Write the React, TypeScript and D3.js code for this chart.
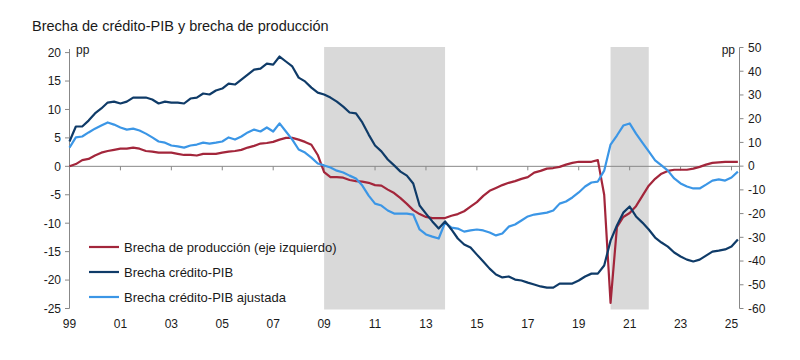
import React from 'react';
import * as d3 from 'd3';

// Quarterly data, 1999Q1 .. 2025Q2
const startYear = 1999;
const quarterCount = 106;
const quarterDates: number[] = Array.from({ length: quarterCount }, (_, i) => startYear + i / 4);

// Brecha de producción (eje izquierdo), pp
const outputGap: number[] = [
  0.0, 0.4, 1.1, 1.3, 1.9, 2.4, 2.7, 2.9, 3.1, 3.1,
  3.3, 3.1, 2.7, 2.6, 2.4, 2.4, 2.4, 2.2, 2.0, 2.0,
  1.9, 2.2, 2.2, 2.2, 2.4, 2.6, 2.7, 2.9, 3.3, 3.6,
  4.0, 4.1, 4.3, 4.7, 5.0, 5.0, 4.7, 4.3, 3.8, 2.0,
  -1.0, -1.9, -1.9, -2.0, -2.4, -2.6, -2.7, -2.9, -3.3, -3.4,
  -4.1, -4.7, -5.6, -6.6, -7.7, -8.4, -8.9, -9.1, -9.1, -9.1,
  -8.7, -8.4, -7.9, -7.1, -6.3, -5.2, -4.3, -3.8, -3.3, -2.9,
  -2.6, -2.2, -1.9, -1.1, -0.8, -0.4, -0.3, -0.1, 0.3, 0.6,
  0.8, 0.8, 0.8, 1.1, -5.0, -24.0, -10.7, -8.9, -8.2, -7.0,
  -5.2, -3.4, -2.2, -1.3, -0.8, -0.6, -0.6, -0.6, -0.4, -0.1,
  0.3, 0.6, 0.7, 0.8, 0.8, 0.8,
];

// Brecha crédito-PIB (eje derecho), pp
const creditGap: number[] = [
  10.4, 16.7, 16.7, 19.2, 22.2, 24.3, 26.8, 27.2, 26.4, 27.2,
  28.9, 28.9, 28.9, 28.1, 26.4, 27.2, 26.8, 26.8, 26.4, 28.5,
  28.9, 30.6, 30.2, 31.9, 32.7, 34.8, 34.4, 36.5, 38.6, 40.7,
  41.1, 43.2, 42.8, 46.2, 44.1, 42.0, 37.3, 35.7, 33.1, 31.0,
  30.2, 28.9, 27.2, 25.1, 22.6, 22.2, 18.4, 13.3, 8.7, 6.2,
  2.8, 0.3, -2.3, -4.0, -7.3, -16.6, -20.0, -23.3, -26.3, -23.3,
  -26.7, -30.5, -33.0, -34.3, -37.3, -40.2, -43.2, -45.7, -46.9, -46.5,
  -47.8, -48.2, -49.1, -49.9, -50.7, -51.2, -51.2, -49.5, -49.5, -49.5,
  -48.2, -46.5, -45.3, -45.3, -41.9, -31.4, -25.0, -19.6, -17.0, -21.2,
  -23.8, -26.7, -30.1, -32.2, -33.9, -36.4, -38.1, -39.4, -40.2, -39.4,
  -37.7, -36.0, -35.6, -35.1, -33.9, -30.9,
];

// Brecha crédito-PIB ajustada (eje derecho), pp
const adjustedCreditGap: number[] = [
  7.8, 12.1, 12.5, 14.2, 15.8, 17.1, 18.4, 17.5, 16.3, 15.4,
  15.8, 15.0, 13.7, 12.1, 10.4, 9.9, 8.7, 8.3, 7.8, 8.7,
  9.1, 9.9, 9.5, 9.9, 10.4, 12.1, 11.2, 12.5, 14.2, 15.4,
  14.6, 16.3, 14.6, 18.0, 14.6, 11.2, 7.0, 5.7, 3.6, 1.1,
  0.3, -0.6, -1.9, -2.7, -4.0, -5.2, -8.2, -12.4, -15.8, -16.6,
  -18.7, -20.0, -20.0, -20.0, -20.4, -26.7, -28.8, -29.7, -30.5, -23.8,
  -25.9, -26.3, -27.6, -27.1, -26.7, -27.1, -28.0, -29.2, -28.4, -25.5,
  -24.6, -22.9, -21.2, -20.4, -20.0, -19.6, -18.7, -15.8, -14.9, -13.2,
  -11.1, -8.6, -6.9, -6.5, -1.9, 9.1, 12.9, 17.1, 18.0, 13.7,
  9.9, 6.2, 2.4, 0.3, -1.9, -5.2, -7.3, -8.6, -9.4, -9.4,
  -7.8, -6.1, -5.6, -6.1, -4.8, -2.3,
];

const xTickYears: number[] = [1999, 2001, 2003, 2005, 2007, 2009, 2011, 2013, 2015, 2017, 2019, 2021, 2023, 2025];
const xTickLabels: string[] = ['99', '01', '03', '05', '07', '09', '11', '13', '15', '17', '19', '21', '23', '25'];
const leftTicks: number[] = [-25, -20, -15, -10, -5, 0, 5, 10, 15, 20];
const rightTicks: number[] = [-60, -50, -40, -30, -20, -10, 0, 10, 20, 30, 40, 50];
const shadedPeriods: [number, number][] = [[2009.0, 2013.75], [2020.25, 2021.75]];

const title = 'Brecha de crédito-PIB y brecha de producción';
const seriesNames = ['Brecha de producción (eje izquierdo)', 'Brecha crédito-PIB', 'Brecha crédito-PIB ajustada'];
const seriesColors = ['#a3263b', '#0f3b68', '#3b96e6'];

const FONT = '"Liberation Sans", Arial, Helvetica, sans-serif';

export default function App() {
  const plotLeft = 69.5;
  const plotRight = 739.5;
  const plotTop = 47.5;
  const plotBottom = 308.5;

  const x = d3.scaleLinear().domain([1999, 2025]).range([plotLeft, 731.5]);
  const yL = d3.scaleLinear().domain([-25, 20]).range([plotBottom, 52.6]);
  const yR = d3.scaleLinear().domain([-60, 50]).range([plotBottom, plotTop]);

  const mk = (vals: number[], y: d3.ScaleLinear<number, number>) =>
    d3.line<number>().x((_, i) => x(quarterDates[i])).y((v) => y(v))(vals) || '';

  const zeroY = yL(0);
  const axisColor = '#888';

  return (
    <svg width={800} height={360} style={{ position: 'absolute', left: 0, top: 0, background: '#fff' }} fontFamily={FONT}>
      <rect x={0} y={0} width={800} height={360} fill="#fff" />
      <text x={32} y={30.5} fontSize={14.5} fill="#1a1a1a">{title}</text>

      {shadedPeriods.map(([a, b], i) => (
        <rect key={i} x={x(a)} y={plotTop - 0.5} width={x(b) - x(a)} height={plotBottom - plotTop + 1.5} fill="#d9d9d9" />
      ))}

      {/* zero line with ticks */}
      <line x1={plotLeft} x2={plotRight} y1={zeroY} y2={zeroY} stroke={axisColor} strokeWidth={1} />
      {xTickYears.map((yr, i) => (
        <g key={i}>
          {i > 0 && <line x1={x(yr)} x2={x(yr)} y1={zeroY} y2={zeroY + 4} stroke={axisColor} strokeWidth={1} />}
          <text x={x(yr)} y={327.5} fontSize={12} textAnchor="middle" fill="#1a1a1a">{xTickLabels[i]}</text>
        </g>
      ))}

      {/* left axis */}
      <line x1={plotLeft} x2={plotLeft} y1={49} y2={plotBottom} stroke={axisColor} strokeWidth={1} />
      {leftTicks.map((t) => (
        <g key={t}>
          <line x1={plotLeft - 4.5} x2={plotLeft} y1={yL(t)} y2={yL(t)} stroke={axisColor} strokeWidth={1} />
          <text x={61} y={yL(t) + 4.3} fontSize={12} textAnchor="end" fill="#1a1a1a">{t}</text>
        </g>
      ))}
      <text x={76} y={54} fontSize={12} fill="#1a1a1a">pp</text>

      {/* right axis */}
      <line x1={plotRight} x2={plotRight} y1={plotTop} y2={plotBottom} stroke={axisColor} strokeWidth={1} />
      {rightTicks.map((t) => (
        <g key={t}>
          <line x1={plotRight} x2={plotRight + 4} y1={yR(t)} y2={yR(t)} stroke={axisColor} strokeWidth={1} />
          <text x={748} y={yR(t) + 4.3} fontSize={12} textAnchor="start" fill="#1a1a1a">{t}</text>
        </g>
      ))}
      <text x={735} y={54} fontSize={12} textAnchor="end" fill="#1a1a1a">pp</text>

      {/* series */}
      <path d={mk(outputGap, yL)} fill="none" stroke={seriesColors[0]} strokeWidth={2.2} strokeLinejoin="round" />
      <path d={mk(adjustedCreditGap, yR)} fill="none" stroke={seriesColors[2]} strokeWidth={2.2} strokeLinejoin="round" />
      <path d={mk(creditGap, yR)} fill="none" stroke={seriesColors[1]} strokeWidth={2.2} strokeLinejoin="round" />

      {/* legend */}
      {seriesNames.map((name, i) => {
        const ly = 247 + i * 25;
        return (
          <g key={name}>
            <line x1={89} x2={119} y1={ly} y2={ly} stroke={seriesColors[i]} strokeWidth={2.2} />
            <text x={124} y={ly + 4.6} fontSize={13} fill="#1a1a1a">{name}</text>
          </g>
        );
      })}
    </svg>
  );
}
